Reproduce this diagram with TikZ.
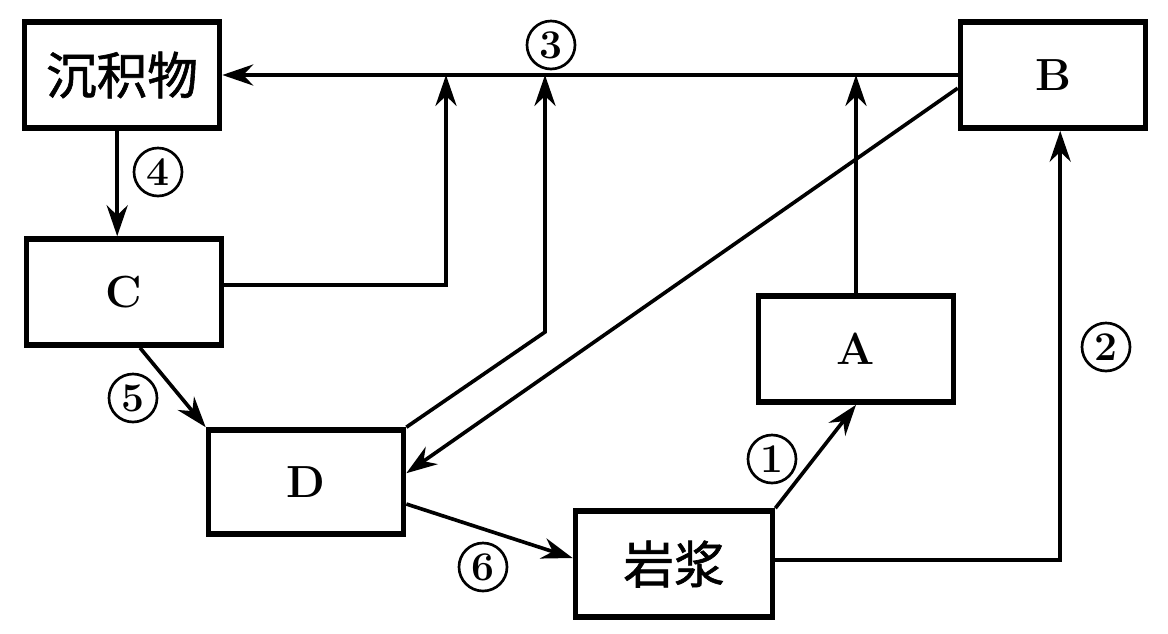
\documentclass[tikz,border=0pt]{standalone}
\usepackage{fontspec}
\newfontfamily\cjk[FakeBold=1.2]{Noto Sans CJK SC}
\usepackage{tikz}
\usetikzlibrary{arrows.meta}

\tikzset{
  box/.style={draw, line width=4pt, minimum width=4.875cm, minimum height=2.65cm, inner sep=0pt, font=\fontsize{32}{34}\selectfont\bfseries},
  hanbox/.style={box, font=\cjk\fontsize{36}{38}\selectfont},
  num/.style={draw, circle, line width=1.9pt, minimum size=1.2cm, inner sep=0pt, font=\fontsize{29}{30}\selectfont\bfseries},
  flow/.style={line width=2.6pt, -{Stealth[length=22pt,width=15pt]}}
}

\begin{document}
\begin{tikzpicture}[x=0.025cm, y=-0.025cm]
\useasboundingbox (0,0) rectangle (1168,633);
%boxes
\node[hanbox] (sed) at (122,75) {沉积物};
\node[box, minimum width=4.625cm] (B) at (1053,75) {B};
\node[box] (C) at (124,292) {C};
\node[box] (A) at (856,349) {A};
\node[box, minimum height=2.6cm] (D) at (306,482) {D};
\node[hanbox, minimum width=4.925cm] (magma) at (674,564) {岩浆};
\coordinate (j1) at (446,75);
\coordinate (bend) at (545,332);
%arrows
%top line
\draw[flow] (B.west) -- (sed.east);
\draw[flow] (A.north) -- (A.north |- B.west);
\draw[flow] ([yshift=0.18cm]C.east) -| (j1);
\draw[flow] (D.north east) -- (bend) -- (bend |- B.west);
%cross
\draw[flow] ([yshift=-0.33cm]B.west) -- ([yshift=0.22cm]D.east);
%left side
\draw[flow] ([xshift=-0.12cm]sed.south) -- ([xshift=-0.12cm]sed.south |- C.north);
\draw[flow] ([xshift=0.4cm]C.south) -- (D.north west);
%bottom
\draw[flow] ([yshift=-0.55cm]D.east) -- ([yshift=0.15cm]magma.west);
\draw[flow] (magma.north east) -- (A.south);
\draw[flow] ([yshift=0.1cm]magma.east) -| ([xshift=0.18cm]B.south);
%numbers
\node[num] (n1) at (772,459) {1};
\node[num] (n2) at (1106,347) {2};
\node[num] (n3) at (551,45) {3};
\node[num] (n4) at (158,172) {4};
\node[num] (n5) at (133,398) {5};
\node[num] (n6) at (483,567) {6};
\end{tikzpicture}
\end{document}
